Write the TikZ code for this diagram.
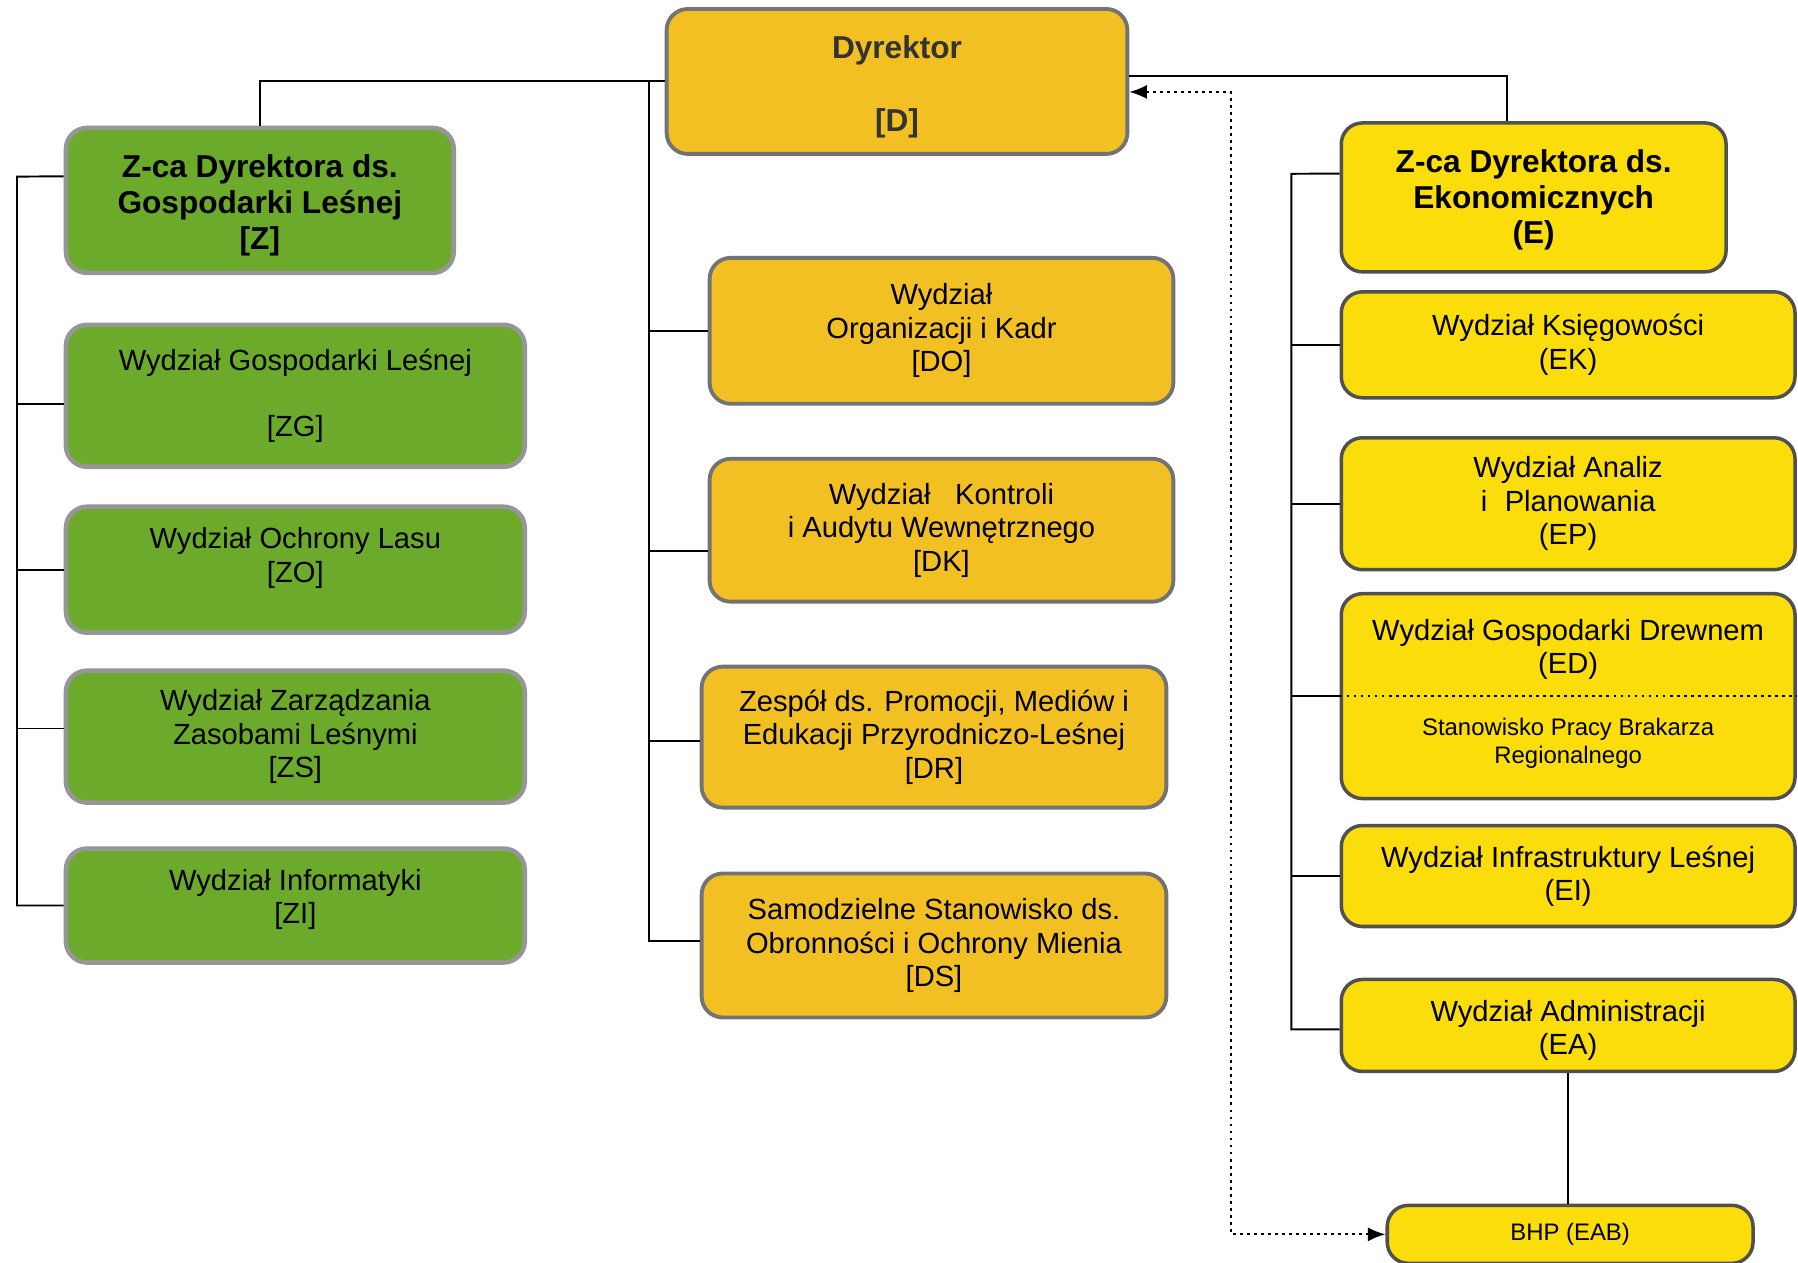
\documentclass[tikz,border=0pt]{standalone}
\usepackage{fontspec}
\setmainfont{Liberation Sans}
\usepackage{tikz}
\usetikzlibrary{arrows.meta}

\definecolor{lasgreen}{RGB}{108,170,44}
\definecolor{dyrorange}{RGB}{243,192,36}
\definecolor{ekoyellow}{RGB}{250,221,10}
\definecolor{zframe}{RGB}{150,150,150}
\definecolor{dframe}{RGB}{115,115,115}
\definecolor{eframe}{RGB}{80,80,80}

\begin{document}
\begin{tikzpicture}[x=1cm, y=-1cm,
box/.style={draw, rounded corners=6pt, align=center, inner sep=1pt,
font=\fontsize{8.3}{9.5}\selectfont},
txt/.style={align=center, inner sep=1pt, font=\fontsize{8.3}{9.5}\selectfont},
zbox/.style={box, fill=lasgreen, draw=zframe, line width=1.3pt},
dbox/.style={box, fill=dyrorange, draw=dframe, line width=1.1pt},
ebox/.style={box, fill=ekoyellow, draw=eframe, line width=1pt},
head/.style={font=\fontsize{9}{10.2}\selectfont\bfseries},
small/.style={font=\fontsize{6.8}{7.9}\selectfont},
link/.style={line width=0.55pt}]
\useasboundingbox (0,0) rectangle (17.99,12.628);
\clip (0,0) rectangle (17.99,12.628);
\fill[white] (0,0) rectangle (17.99,12.628);

% director
\node[dbox, head, text=black!80, minimum width=4.61cm, minimum height=1.45cm] (D) at (8.975,0.815) {\rule{0pt}{9.4pt}Dyrektor\\[10.6pt]{[D]}};

% forest management
\node[zbox, head, minimum width=3.88cm, minimum height=1.45cm] (Z) at (2.60,2.005) {\rule{0pt}{9.4pt}Z-ca Dyrektora ds.\\Gospodarki Leśnej\\{[Z]}};
\node[zbox, minimum width=4.59cm, minimum height=1.42cm] (ZG) at (2.955,3.96) {Wydział Gospodarki Leśnej\\[9.5pt]{[ZG]}};
\node[zbox, minimum width=4.59cm, minimum height=1.26cm] (ZO) at (2.955,5.70) {Wydział Ochrony Lasu\\{[ZO]}\rule[-8.3pt]{0pt}{0pt}};
\node[zbox, minimum width=4.59cm, minimum height=1.32cm] (ZS) at (2.955,7.37) {Wydział Zarządzania\\Zasobami Leśnymi\\{[ZS]}};
\node[zbox, minimum width=4.59cm, minimum height=1.14cm] (ZI) at (2.955,9.06) {Wydział Informatyki\\{[ZI]}\rule[-5pt]{0pt}{0pt}};

% directly under director
\node[dbox, minimum width=4.64cm, minimum height=1.46cm] (DO) at (9.42,3.31) {Wydział\\Organizacji i Kadr\\{[DO]}};
\node[dbox, minimum width=4.64cm, minimum height=1.43cm] (DK) at (9.42,5.305) {Wydział\hspace{7pt}Kontroli\\i Audytu Wewnętrznego\\{[DK]}};
\node[dbox, minimum width=4.65cm, minimum height=1.41cm] (DR) at (9.345,7.375) {Zespół ds. Promocji, Mediów i\\Edukacji Przyrodniczo-Leśnej\\{[DR]}};
\node[dbox, minimum width=4.65cm, minimum height=1.44cm] (DS) at (9.345,9.46) {Samodzielne Stanowisko ds.\\Obronności i Ochrony Mienia\\{[DS]}};

% economics
\node[ebox, head, minimum width=3.85cm, minimum height=1.49cm] (E) at (15.345,1.975) {\rule{0pt}{8pt}Z-ca Dyrektora ds.\\Ekonomicznych\\(E)};
\node[ebox, minimum width=4.54cm, minimum height=1.06cm] (EK) at (15.69,3.45) {Wydział Księgowości\\(EK)};
\node[ebox, minimum width=4.54cm, minimum height=1.32cm] (EP) at (15.69,5.04) {Wydział Analiz\\i\hspace{5pt}Planowania\\(EP)};
\node[ebox, minimum width=4.54cm, minimum height=2.05cm] (ED) at (15.69,6.965) {};
\node[txt] (EDt) at (15.69,6.495) {Wydział Gospodarki Drewnem\\(ED)};
\node[txt, small] (EDs) at (15.69,7.44) {Stanowisko Pracy Brakarza\\Regionalnego};
\node[ebox, minimum width=4.54cm, minimum height=1.01cm] (EI) at (15.69,8.765) {Wydział Infrastruktury Leśnej\\(EI)};
\node[ebox, minimum width=4.54cm, minimum height=0.92cm] (EA) at (15.69,10.26) {\rule{0pt}{8.9pt}Wydział Administracji\\(EA)};
\node[ebox, small, minimum width=3.66cm, minimum height=0.58cm] (BHP) at (15.71,12.35) {BHP (EAB)};

\draw[dash pattern=on 0.8pt off 1.2pt, line width=0.7pt] (ED.west) -- (ED.east);

% connectors
\draw[link] (D.west) -| (Z.north);
\draw[link] (D.east |- 0,0.76) -| (E.109);
\coordinate (dspine) at (6.49,0.815);
\draw[link] (dspine) |- (DS.179);
\foreach \n/\a in {DO/180, DK/185, DR/181}{
\draw[link] (dspine |- \n.\a) -- (\n.\a);}
\coordinate (zspine) at (0.17,1.767);
\draw[link] (Z.173) -- (zspine) |- (ZI.west);
\foreach \n/\a in {ZG/182, ZO/180, ZS/178}{
\draw[link] (zspine |- \n.\a) -- (\n.\a);}
\coordinate (espine) at (12.92,1.739);
\draw[link] (E.173) -- (espine) |- (EA.181);
\foreach \n in {EK, EP, ED, EI}{
\draw[link] (espine |- \n.west) -- (\n.west);}
\draw[link] (EA.south) -- (EA.south |- BHP.north);
\draw[link, dash pattern=on 0.8pt off 1.2pt, {Latex[length=5pt,width=4pt]}-{Latex[length=5pt,width=4pt]}] (D.east |- 0,0.92) -| (12.32,12.35) -- (BHP.west);
\end{tikzpicture}
\end{document}
